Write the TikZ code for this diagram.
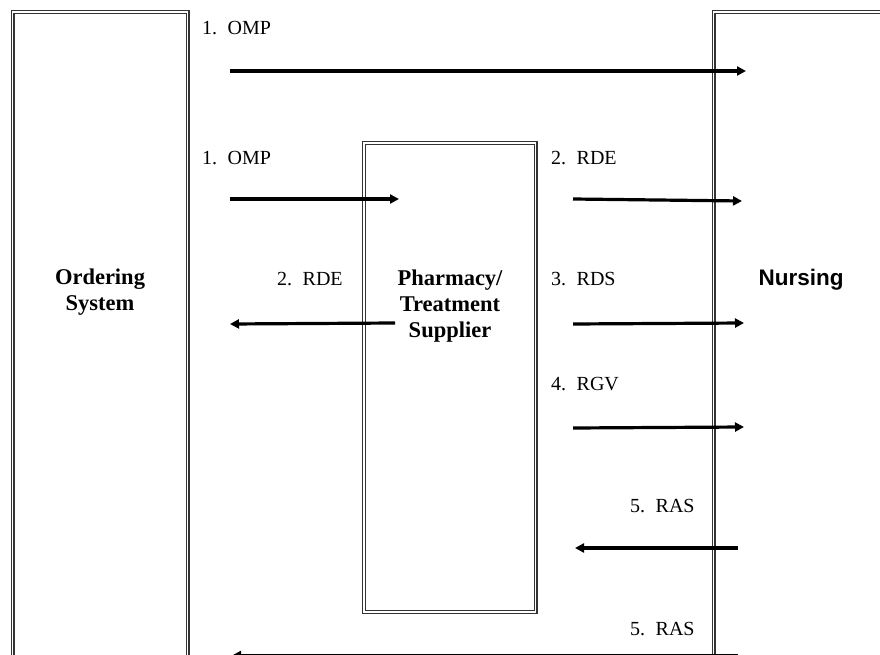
\documentclass[tikz,border=0pt]{standalone}
\usepackage{fontspec}
\setmainfont{Liberation Serif}
\newfontfamily\arialfont{Liberation Sans}
\usetikzlibrary{arrows.meta}
\begin{document}
\begin{tikzpicture}[x=1pt,y=-1pt,
  dbox/.style={draw=black!80, line width=1.1pt, double=white, double distance=1.8pt},
  flow/.style={line width=3.2pt, -{Triangle[length=9pt,width=9pt]}},
  lab/.style={anchor=base west, inner sep=0pt, font=\fontsize{20}{22}\selectfont},
  ttl/.style={align=center, inner sep=0pt, font=\fontsize{22.5}{26}\selectfont\bfseries}]
\useasboundingbox (0,0) rectangle (880,655);
\begin{scope}
\clip (0,0) rectangle (880,655);
% boxes
\draw[dbox] (12.5,700) -- (12.5,12) -- (187.5,12) -- (187.5,700);
\draw[dbox] (364,143) rectangle (535.5,612);
\draw[dbox] (900,12) -- (713.5,12) -- (713.5,700);
% titles
\node[ttl] (ord) at (100,292.5) {Ordering\\System};
\node[ttl] (pha) at (450,306) {Pharmacy/\\Treatment\\Supplier};
\node[inner sep=0pt, font=\fontsize{22.5}{26}\selectfont\arialfont\bfseries] (nur) at (801,280) {Nursing};
% labels
\node[lab] (l1) at (202,35) {1.\hspace{10.5pt}OMP};
\node[lab] (l2) at (202,165) {1.\hspace{10.5pt}OMP};
\node[lab] (l3) at (277,285) {2.\hspace{10.5pt}RDE};
\node[lab] (l4) at (551,165) {2.\hspace{10.5pt}RDE};
\node[lab] (l5) at (551,285) {3.\hspace{10.5pt}RDS};
\node[lab] (l6) at (551,390) {4.\hspace{10.5pt}RGV};
\node[lab] (l7) at (630,512) {5.\hspace{10.5pt}RAS};
\node[lab] (l8) at (630,635) {5.\hspace{10.5pt}RAS};
% arrow end points
\coordinate (a1s) at (230,71);  \coordinate (a1e) at (746,71);
\coordinate (a2s) at (230,199); \coordinate (a2e) at (399,199);
\coordinate (a3s) at (395,323); \coordinate (a3e) at (230,324);
\coordinate (a4s) at (573,199); \coordinate (a4e) at (742,201);
\coordinate (a5s) at (573,324); \coordinate (a5e) at (744,323);
\coordinate (a6s) at (573,428); \coordinate (a6e) at (744,427);
\coordinate (a7s) at (738,548); \coordinate (a7e) at (575,548);
\coordinate (a8s) at (738,655.5); \coordinate (a8e) at (232,655.5);
\foreach \i in {1,...,8} \draw[flow] (a\i s) -- (a\i e);
\end{scope}
\end{tikzpicture}
\end{document}
